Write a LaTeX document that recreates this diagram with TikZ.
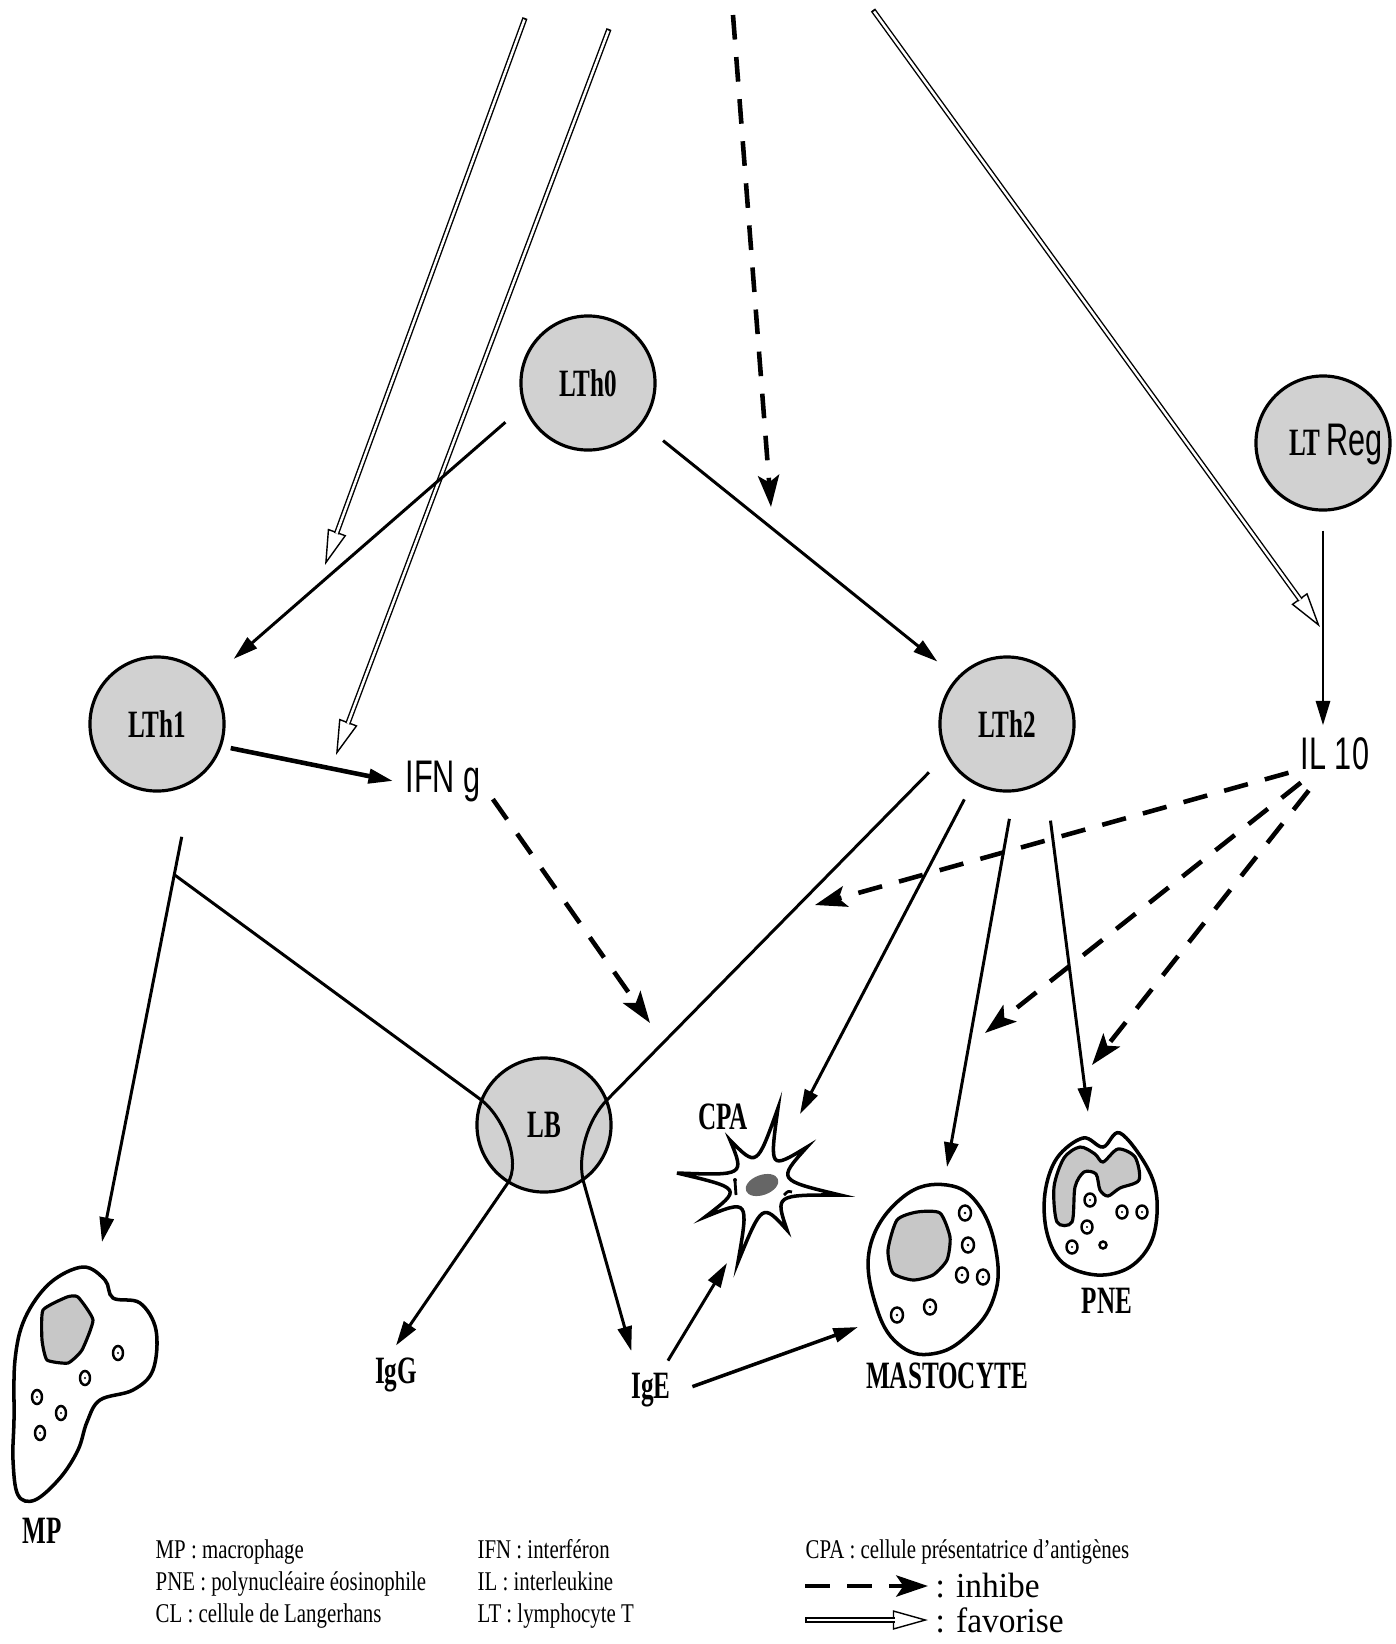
\documentclass[tikz,border=0pt]{standalone}
\usepackage{fontspec}
\usetikzlibrary{arrows.meta,positioning,calc}
\newfontfamily\labelfont[FakeStretch=0.65]{Liberation Serif}
\newfontfamily\narrowsans[FakeStretch=0.67]{Liberation Sans}
\newfontfamily\keyfont[FakeStretch=0.77]{Liberation Serif}
\newfontfamily\keywide[FakeStretch=0.95]{Liberation Serif}

\begin{document}
\begin{tikzpicture}[x=0.01cm,y=-0.01cm]
\tikzstyle{cell}=[draw, circle, line width=0.9pt, fill=black!18, minimum size=1.34cm, inner sep=0pt, font=\labelfont\bfseries\fontsize{11}{13}\selectfont];
\tikzstyle{celllabel}=[font=\labelfont\bfseries\fontsize{11}{13}\selectfont];
\tikzstyle{sans}=[font=\narrowsans\fontsize{13}{15}\selectfont];
\tikzstyle{keytext}=[anchor=base west, inner sep=0pt, font=\keyfont\fontsize{7.7}{9}\selectfont];
\tikzstyle{keybig}=[anchor=west, inner sep=2pt, font=\keywide\fontsize{10}{12}\selectfont];
\tikzstyle{act}=[->, line width=0.85pt];
\tikzstyle{inhib}=[-{Stealth[length=9pt,width=6pt,inset=2pt]}, line width=1.3pt, dash pattern=on 7pt off 5pt];
\tikzstyle{favor}=[-{Triangle[open,length=10pt,width=5.5pt]}, line width=0.4pt, preaction={draw, -, line width=1.5pt, shorten >=9.5pt}, postaction={draw=white, -, line width=0.7pt, shorten >=9.5pt, shorten <=0.5pt}];
\tikzstyle{outline}=[line width=1pt, fill=white];
\tikzstyle{nucleus}=[line width=0.9pt, fill=black!22];
\tikzstyle{granule}=[line width=0.7pt, fill=white];

\useasboundingbox (0,0) rectangle (1396,1644);
\fill[white] (0,0) rectangle (1396,1644);

\begin{scope}[>={Triangle[length=7pt,width=4pt]}]
  % ends of the arrows coming from above
  \coordinate (fav1-s) at (525,18);
  \coordinate (fav1-e) at (325,565);
  \coordinate (fav2-s) at (609,29);
  \coordinate (fav2-e) at (336,755);
  \coordinate (fav3-s) at (873,10);
  \coordinate (fav3-e) at (1320,627);
  \coordinate (top-s) at (733,15);
  \coordinate (top-e) at (771,507);

  \draw[favor] (fav1-s) -- (fav1-e);
  \draw[favor] (fav2-s) -- (fav2-e);
  \draw[favor] (fav3-s) -- (fav3-e);
  \draw[inhib] (top-s) -- (top-e);

  % lymphocytes
  \node (lth0) at (588,383) [cell]{LTh0};
  \node (lth1) at (157,724) [cell]{LTh1};
  \node (lth2) at (1007,724) [cell]{LTh2};
  \node (lb) at (544,1125) [cell]{LB};
  \node (ltreg) at (1323,443) [cell]{};
  \node (ltregtxt) at (1336,445) {{\labelfont\bfseries\fontsize{11}{13}\selectfont LT}\,{\narrowsans\fontsize{13}{15}\selectfont Reg}};

  \node (ifng) at (443,781) [sans]{IFN g};
  \node (il10) at (1335,754) [sans]{IL 10};
  \node (igg) at (396,1375) [celllabel]{IgG};
  \node (ige) at (651,1390) [celllabel]{IgE};

  % macrophage
  \coordinate (mp) at (85,1385);
  \begin{scope}[shift={(mp)}]
    \draw[outline] plot[smooth cycle, tension=0.6] coordinates {(-2,-118) (20,-105) (28,-87) (55,-82) (71,-55) (68,-15) (48,5) (15,15) (2,37) (-7,65) (-25,93) (-50,115) (-67,110) (-72,75) (-71,35) (-70,-25) (-60,-67) (-35,-102)};
    \draw[nucleus] plot[smooth cycle, tension=0.3] coordinates {(-42,-75) (-18,-88) (-7,-88) (8,-65) (-3,-35) (-17,-22) (-38,-25) (-43,-45)};
    \foreach \p in {(33,-32),(0,-7),(-48,12),(-24,28),(-45,48)} {
      \draw[granule] \p ellipse [x radius=5, y radius=7];
      \fill \p circle [radius=1.2];
    }
  \end{scope}
  \node (mp-lbl) at (42,1531) [celllabel]{MP};

  % antigen presenting cell
  \coordinate (cpa) at (760,1185);
  \begin{scope}[shift={(cpa)}]
    \draw[outline] (18,-77) .. controls (9.5,-15.3) .. (47,-38) .. controls (17.3,-5) .. (80,10) .. controls (15.1,9.8) .. (27,45) .. controls (2.3,17.8) .. (-22,77) .. controls (-11.1,14.2) .. (-55,32) .. controls (-17.7,3.4) .. (-83,-12) .. controls (-15.3,-9.5) .. (-30,-45) .. controls (-3.2,-17.7) .. (18,-77) -- cycle;
    \fill[black!60] (2,0) ellipse [x radius=17, y radius=10, rotate=20];
    \draw[line width=0.8pt] (-25,-4) -- (-24,10);
    \fill (-25,-5) circle [radius=2];
    \draw[line width=0.8pt] (24,10) .. controls (28,6) .. (32,7);
  \end{scope}
  \node (cpa-lbl) at (723,1117) [celllabel]{CPA};

  % mast cell
  \coordinate (mast) at (932,1269);
  \begin{scope}[shift={(mast)}]
    \draw[outline] plot[smooth cycle, tension=0.7] coordinates {(15,-84) (48,-62) (65,-12) (61,31) (38,64) (5,84) (-30,78) (-55,40) (-62,-22) (-29,-72)};
    \draw[nucleus] plot[smooth cycle, tension=0.4] coordinates {(-35,-49) (-15,-57) (8,-56) (18,-32) (15,-9) (1,6) (-19,11) (-39,4) (-44,-19)};
    \foreach \p in {(33,-56),(36,-24),(30,6),(51,8),(-2,38),(-35,46)} {
      \draw[granule] \p ellipse [x radius=6, y radius=7.5];
      \fill \p circle [radius=1.3];
    }
  \end{scope}
  \node (mast-lbl) [below=0.81cm of mast, xshift=0.15cm, celllabel]{MASTOCYTE};

  % eosinophil
  \coordinate (pne) at (1100,1202);
  \begin{scope}[shift={(pne)}]
    \draw[outline] plot[smooth cycle, tension=0.6] coordinates {(-17,-64) (3,-55) (20,-69) (47,-35) (57,-2) (52,38) (30,65) (-3,73) (-37,61) (-53,31) (-55,-9) (-43,-44)};
    \draw[nucleus] plot[smooth cycle, tension=0.5] coordinates {(-43,20) (-46,-15) (-36,-44) (-20,-55) (-5,-48) (3,-40) (18,-53) (35,-45) (39,-22) (20,-14) (8,-6) (0,-12) (-4,-28) (-16,-30) (-25,-15) (-28,20)};
    \foreach \p in {(-10,-2),(22,10),(42,10),(-13,25),(-28,45)} {
      \draw[granule] \p ellipse [x radius=5.5, y radius=6.5];
      \fill \p circle [radius=1.2];
    }
    \draw[granule] (3,43) circle [radius=3.5];
  \end{scope}
  \node (pne-lbl) [below=0.74cm of pne, xshift=0.07cm, celllabel]{PNE};

  % free ends
  \coordinate (mp-tip) at (102,1242);
  \coordinate (fork) at ($(lth1.301)!0.2!(mp-tip)$);
  \coordinate (ifng-e) at (650,1023);
  \coordinate (cpa-in) at (800,1114);
  \coordinate (mast-in) at (947,1167);
  \coordinate (pne-in) at (1088,1112);
  \coordinate (inh-lb) at (815,905);
  \coordinate (inh-mast) at (985,1033);
  \coordinate (inh-pne) at (1092,1065);
  \coordinate (cpa-low) at (727,1263);
  \coordinate (mast-left) at (858,1327);

  \draw[act, shorten <=2.4mm, shorten >=3.2mm] (lth0.200) -- (lth1.40);
  \draw[act, shorten <=2.6mm, shorten >=2.5mm] (lth0.323) -- (lth2.137);
  \draw[act, line width=1.3pt, shorten <=0.9mm] (lth1.341) -- (ifng.west);
  \draw[inhib] (ifng.340) -- (ifng-e);
  \draw[act, shorten <=5.5mm] (lth1.301) -- (mp-tip);
  \draw[act] (fork) -- (lb.158) .. controls +(23,17) and +(14,-21) .. (lb.238) -- (igg.north);
  \draw[act, shorten <=2.4mm, shorten >=1mm] (lth2.207) -- (lb.22) .. controls +(-21,21) and +(-6,-24) .. (lb.305) -- (ige.120);
  \draw[act, shorten <=1.8mm] (lth2.240) -- (cpa-in);
  \draw[act, shorten <=2.7mm] (lth2.276) -- (mast-in);
  \draw[act, shorten <=4mm] (lth2.304) -- (pne-in);
  \draw[act, shorten <=1.9mm] (ltreg.south) -- (ltreg.south |- il10.north);
  \draw[inhib] (il10.202) -- (inh-lb);
  \draw[inhib] (il10.220) -- (inh-mast);
  \draw[inhib, shorten <=1mm] (il10.235) -- (inh-pne);
  \draw[act] (ige.60) -- (cpa-low);
  \draw[act, line width=1pt, shorten <=1mm] (ige.east) -- (mast-left);

  % key
  \node (mp-key) at (155,1558) [keytext]{MP : macrophage};
  \node (pne-key) at (155,1590) [keytext]{PNE : polynucléaire éosinophile};
  \node (cl-key) at (155,1622) [keytext]{CL : cellule de Langerhans};
  \node (ifn-key) at (477,1558) [keytext]{IFN : interféron};
  \node (il-key) at (477,1590) [keytext]{IL : interleukine};
  \node (lt-key) at (477,1622) [keytext]{LT : lymphocyte T};
  \node (cpa-key) at (805,1558) [keytext]{CPA : cellule présentatrice d’antigènes};
  \node (inhibe) at (928,1586) [keybig]{: inhibe};
  \node (favorise) at (928,1620) [keybig]{: favorise};
  \coordinate (inhibe-s) at (805,1586);
  \coordinate (favorise-s) at (805,1620);
  \draw[inhib] (inhibe-s) -- (inhibe.west);
  \draw[favor] (favorise-s) -- (favorise.west);
\end{scope}
\end{tikzpicture}
\end{document}
